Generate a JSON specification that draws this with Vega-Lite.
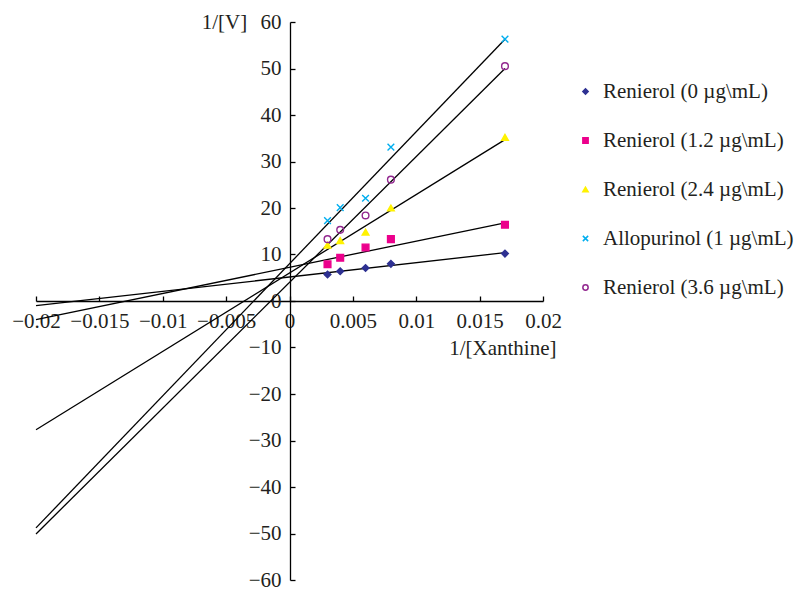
{
  "$schema": "https://vega.github.io/schema/vega-lite/v6.json",
  "width": 507,
  "height": 558,
  "autosize": {"type": "none"},
  "padding": {"left": 36, "top": 22, "right": 255, "bottom": 10},
  "background": "white",
  "datasets": {
    "lines": [
      {"series": "Renierol (0 µg\\mL)", "x": -0.02, "y": -1.0},
      {"series": "Renierol (0 µg\\mL)", "x": 0.017, "y": 10.4},
      {"series": "Renierol (1.2 µg\\mL)", "x": -0.02, "y": -4.0},
      {"series": "Renierol (1.2 µg\\mL)", "x": 0.017, "y": 16.8},
      {"series": "Renierol (2.4 µg\\mL)", "x": -0.02, "y": -27.7},
      {"series": "Renierol (2.4 µg\\mL)", "x": 0.017, "y": 34.7},
      {"series": "Allopurinol (1 µg\\mL)", "x": -0.02, "y": -48.8},
      {"series": "Allopurinol (1 µg\\mL)", "x": 0.017, "y": 56.3},
      {"series": "Renierol (3.6 µg\\mL)", "x": -0.02, "y": -50.1},
      {"series": "Renierol (3.6 µg\\mL)", "x": 0.017, "y": 50.0}
    ],
    "points": [
      {"series": "Renierol (0 µg\\mL)", "x": 0.003, "y": 5.7},
      {"series": "Renierol (0 µg\\mL)", "x": 0.004, "y": 6.4},
      {"series": "Renierol (0 µg\\mL)", "x": 0.006, "y": 7.1},
      {"series": "Renierol (0 µg\\mL)", "x": 0.008, "y": 8.0},
      {"series": "Renierol (0 µg\\mL)", "x": 0.017, "y": 10.2},
      {"series": "Renierol (1.2 µg\\mL)", "x": 0.003, "y": 7.9},
      {"series": "Renierol (1.2 µg\\mL)", "x": 0.004, "y": 9.3},
      {"series": "Renierol (1.2 µg\\mL)", "x": 0.006, "y": 11.5},
      {"series": "Renierol (1.2 µg\\mL)", "x": 0.008, "y": 13.3},
      {"series": "Renierol (1.2 µg\\mL)", "x": 0.017, "y": 16.4},
      {"series": "Renierol (2.4 µg\\mL)", "x": 0.003, "y": 12.0},
      {"series": "Renierol (2.4 µg\\mL)", "x": 0.004, "y": 13.0},
      {"series": "Renierol (2.4 µg\\mL)", "x": 0.006, "y": 14.8},
      {"series": "Renierol (2.4 µg\\mL)", "x": 0.008, "y": 20.0},
      {"series": "Renierol (2.4 µg\\mL)", "x": 0.017, "y": 35.2},
      {"series": "Allopurinol (1 µg\\mL)", "x": 0.003, "y": 17.3},
      {"series": "Allopurinol (1 µg\\mL)", "x": 0.004, "y": 20.1},
      {"series": "Allopurinol (1 µg\\mL)", "x": 0.006, "y": 22.1},
      {"series": "Allopurinol (1 µg\\mL)", "x": 0.008, "y": 33.1},
      {"series": "Allopurinol (1 µg\\mL)", "x": 0.017, "y": 56.3},
      {"series": "Renierol (3.6 µg\\mL)", "x": 0.003, "y": 13.3},
      {"series": "Renierol (3.6 µg\\mL)", "x": 0.004, "y": 15.3},
      {"series": "Renierol (3.6 µg\\mL)", "x": 0.006, "y": 18.4},
      {"series": "Renierol (3.6 µg\\mL)", "x": 0.008, "y": 26.1},
      {"series": "Renierol (3.6 µg\\mL)", "x": 0.017, "y": 50.5}
    ]
  },
  "layer": [
    {
      "data": {"name": "lines"},
      "mark": {"type": "line", "color": "black", "strokeWidth": 1.3},
      "encoding": {
        "x": {
          "field": "x", "type": "quantitative",
          "scale": {"domain": [-0.02, 0.02], "nice": false, "zero": false},
          "axis": {
            "orient": "bottom", "offset": -279,
            "values": [-0.02, -0.015, -0.01, -0.005, 0, 0.005, 0.01, 0.015, 0.02],
            "format": ".3~f",
            "grid": false, "tickSize": -5, "labelPadding": 14,
            "labelFlush": false, "labelOverlap": false,
            "title": "1/[Xanthine]", "titleX": 520, "titleY": 47,
            "titleAlign": "right", "titleBaseline": "middle", "titleAngle": 0
          }
        },
        "y": {
          "field": "y", "type": "quantitative",
          "scale": {"domain": [-60, 60], "nice": false, "zero": false},
          "axis": {
            "orient": "left", "offset": -254,
            "values": [-60, -50, -40, -30, -20, -10, 0, 10, 20, 30, 40, 50, 60],
            "grid": false, "tickSize": -5, "labelPadding": 14,
            "labelFlush": false, "labelOverlap": false,
            "title": "1/[V]", "titleX": -66, "titleY": 0,
            "titleAlign": "center", "titleBaseline": "middle", "titleAngle": 0
          }
        },
        "detail": {"field": "series", "type": "nominal"}
      }
    },
    {
      "data": {"name": "points"},
      "mark": {"type": "point", "size": 45, "strokeWidth": 1.4, "opacity": 1},
      "encoding": {
        "x": {"field": "x", "type": "quantitative"},
        "y": {"field": "y", "type": "quantitative"},
        "shape": {
          "field": "series", "type": "nominal",
          "scale": {
            "domain": ["Renierol (0 µg\\mL)", "Renierol (1.2 µg\\mL)", "Renierol (2.4 µg\\mL)", "Allopurinol (1 µg\\mL)", "Renierol (3.6 µg\\mL)"],
            "range": ["diamond", "square", "triangle-up", "M-1,-1L1,1M-1,1L1,-1", "circle"]
          },
          "legend": {
            "title": null, "orient": "none", "legendX": 539, "legendY": 59,
            "padding": 0, "rowPadding": 27, "labelOffset": 7,
            "symbolSize": 28, "labelFontSize": 21, "labelLimit": 300
          }
        },
        "fill": {
          "field": "series", "type": "nominal",
          "scale": {
            "domain": ["Renierol (0 µg\\mL)", "Renierol (1.2 µg\\mL)", "Renierol (2.4 µg\\mL)", "Allopurinol (1 µg\\mL)", "Renierol (3.6 µg\\mL)"],
            "range": ["#2E3192", "#EC008C", "#FFF200", "transparent", "transparent"]
          }
        },
        "stroke": {
          "field": "series", "type": "nominal",
          "scale": {
            "domain": ["Renierol (0 µg\\mL)", "Renierol (1.2 µg\\mL)", "Renierol (2.4 µg\\mL)", "Allopurinol (1 µg\\mL)", "Renierol (3.6 µg\\mL)"],
            "range": ["#2E3192", "#EC008C", "#FFF200", "#00AEEF", "#92278F"]
          }
        }
      }
    }
  ],
  "config": {
    "view": {"stroke": null},
    "font": "Liberation Serif",
    "axis": {
      "domainColor": "black", "domainWidth": 1.3, "tickColor": "black", "tickWidth": 1.3,
      "labelFont": "Liberation Serif", "labelFontSize": 21, "labelColor": "#231F20",
      "titleFont": "Liberation Serif", "titleFontSize": 21, "titleFontWeight": "normal", "titleColor": "#231F20"
    },
    "legend": {"labelFont": "Liberation Serif", "labelColor": "#231F20"}
  }
}
